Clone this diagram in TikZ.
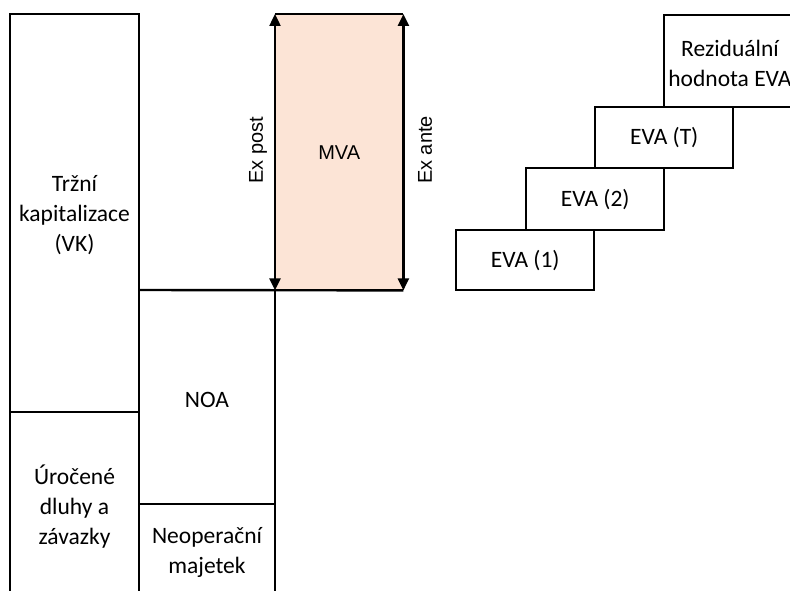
\documentclass[tikz,border=0pt]{standalone}
\usepackage{fontspec}
\setmainfont{Carlito}
\newfontfamily\arialfont{Liberation Sans}
\usetikzlibrary{arrows.meta}
\definecolor{mvafill}{RGB}{252,228,214}
\begin{document}
\begin{tikzpicture}[x=1pt,y=-1pt,
  edge/.style={line width=2.4pt,line join=miter},
  evabox/.style={draw,line width=2.4pt,minimum width=138pt,anchor=north west,inner sep=0pt,align=center,font=\fontsize{23.5}{30}\selectfont},
  lbl/.style={font=\fontsize{23.5}{30}\selectfont,align=center,inner sep=0pt},
  alab/.style={font=\arialfont\fontsize{20}{24}\selectfont,inner sep=0pt},
  dimarrow/.style={line width=2.4pt,>={Triangle[length=12pt,width=11pt]},<->}]
\useasboundingbox (0,0) rectangle (790,591);
\clip (0,0) rectangle (790,591);
% MVA box
\node[fill=mvafill,minimum width=128pt,minimum height=276pt,anchor=north west,inner sep=0pt] (mva) at (275,14) {};
\node[alab] (mvat) at (mva.center) {MVA};
\draw[edge] (mva.north west) -- (mva.north east);
\draw[dimarrow] (mva.north west) -- (mva.south west);
\draw[dimarrow] (mva.north east) -- (mva.south east);
\node[alab,rotate=90] (expost) at (258,150) {Ex post};
\node[alab,rotate=90] (exante) at (425,150) {Ex ante};
% left structure
\coordinate (lb) at (10,600);
\coordinate (ltl) at (10,14);
\coordinate (ltr) at (139,14);
\coordinate (lbr) at (139,600);
\draw[edge] (lb) -- (ltl) -- (ltr) -- (lbr);
\coordinate (hl) at (139,290);
\draw[edge] (hl) -- (mva.south east);
\coordinate (vx) at (275,600);
\draw[edge] (mva.south west) -- (vx);
\coordinate (d1) at (10,412);
\coordinate (d2) at (139,412);
\draw[edge] (d1) -- (d2);
\coordinate (n1) at (139,504);
\coordinate (n2) at (275,504);
\draw[edge] (n1) -- (n2);
% texts
\node[lbl] (vk) at (74.5,215) {Tržní\\kapitalizace\\(VK)};
\node[lbl] (noa) at (207,400) {NOA};
\node[lbl] (dluhy) at (74.5,507) {Úročené\\dluhy a\\závazky};
\node[lbl] (neop) at (207,552) {Neoperační\\majetek};
% EVA steps
\node[evabox,minimum height=60pt] (eva1) at (455,229) {EVA (1)};
\node[evabox,minimum height=62pt] (eva2) at (525,167) {EVA (2)};
\node[evabox,minimum height=61pt] (evat) at (594,106) {EVA (T)};
\node[evabox,minimum height=92pt] (rez) at (663,14) {};
\node[lbl] (reztext) at (730,63) {Reziduální\\hodnota EVA};
\end{tikzpicture}
\end{document}
